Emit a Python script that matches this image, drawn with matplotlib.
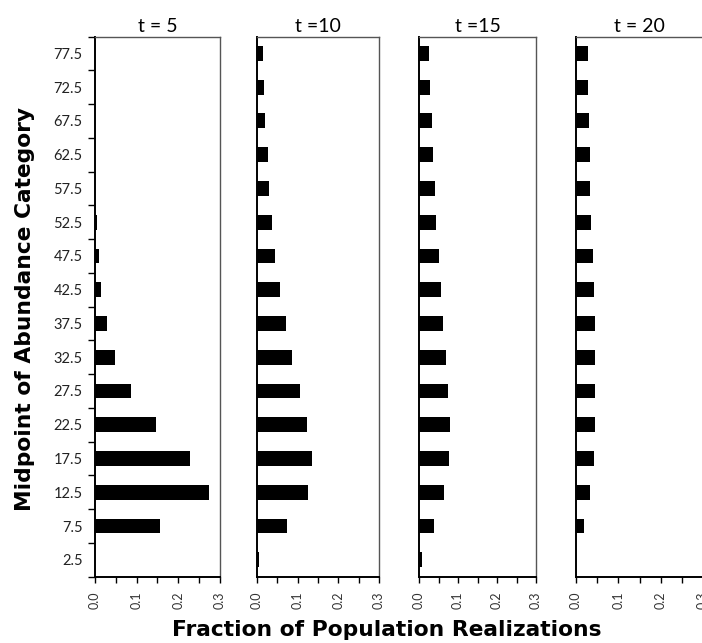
import numpy as np
import matplotlib.pyplot as plt
from matplotlib.ticker import MultipleLocator

# Abundance category midpoints and the fraction of realizations in each
midpoints = [2.5, 7.5, 12.5, 17.5, 22.5, 27.5, 32.5, 37.5,
             42.5, 47.5, 52.5, 57.5, 62.5, 67.5, 72.5, 77.5]
times = ['t = 5', 't =10', 't =15', 't = 20']
frac_t5 = [0.0, 0.156, 0.274, 0.229, 0.146, 0.086, 0.049, 0.028,
           0.015, 0.009, 0.004, 0.0, 0.0, 0.0, 0.0, 0.0]
frac_t10 = [0.006, 0.074, 0.126, 0.135, 0.122, 0.105, 0.086, 0.071,
            0.056, 0.045, 0.036, 0.030, 0.026, 0.021, 0.017, 0.015]
frac_t15 = [0.007, 0.038, 0.064, 0.076, 0.079, 0.074, 0.069, 0.062,
            0.056, 0.051, 0.044, 0.040, 0.036, 0.033, 0.029, 0.026]
frac_t20 = [0.0, 0.020, 0.034, 0.042, 0.044, 0.046, 0.044, 0.044,
            0.042, 0.041, 0.036, 0.034, 0.032, 0.030, 0.028, 0.028]
fractions = [frac_t5, frac_t10, frac_t15, frac_t20]

plt.rcParams['font.family'] = ['Lato', 'DejaVu Sans']

fig = plt.figure(figsize=(7.02, 6.43), dpi=100)

# panel rectangles in figure coords
lefts = [0.1353, 0.366, 0.597, 0.8205]
widths = [0.178, 0.174, 0.1667, 0.181]
bottom, height = 0.1032, 0.840

for i, (name, vals) in enumerate(zip(times, fractions)):
    ax = fig.add_axes([lefts[i], bottom, widths[i], height])
    ax.barh(midpoints, vals, height=2.2, color='black', zorder=3)
    ax.set_xlim(0, 0.3)
    ax.set_ylim(0, 80)
    ax.xaxis.set_minor_locator(MultipleLocator(0.05))
    ax.set_xticks([0.0, 0.1, 0.2, 0.3])
    ax.set_xticklabels(['0.0', '0.1', '0.2', '0.3'], rotation=90,
                       fontsize=9, color='#333333')
    ax.tick_params(axis='x', which='both', direction='out', length=4,
                   width=1, pad=7)
    ax.spines['left'].set_linewidth(1.4)
    ax.spines['bottom'].set_linewidth(1.4)
    for side in ['top', 'right']:
        ax.spines[side].set_color('#555555')
        ax.spines[side].set_linewidth(1.0)
    if i == 0:
        ax.set_yticks(np.arange(0, 81, 5))
        ax.set_yticklabels([])
        ax.set_yticks(midpoints, minor=True)
        ax.set_yticklabels([f'{m}' for m in midpoints], minor=True,
                           fontsize=10.5, color='#222222')
        ax.tick_params(axis='y', which='major', direction='out', length=5,
                       width=1)
        ax.tick_params(axis='y', which='minor', length=0, pad=9)
    else:
        ax.set_yticks([])
    ax.set_title(name, fontsize=14, pad=3)

fig.text(0.551, 0.004, 'Fraction of Population Realizations',
         ha='center', va='bottom', fontsize=15.7, fontweight='bold',
         family='DejaVu Sans')
fig.text(0.036, 0.519, 'Midpoint of Abundance Category', rotation=90,
         ha='center', va='center', fontsize=15.7, fontweight='bold',
         family='DejaVu Sans')

fig.savefig('out.png', dpi=100)
